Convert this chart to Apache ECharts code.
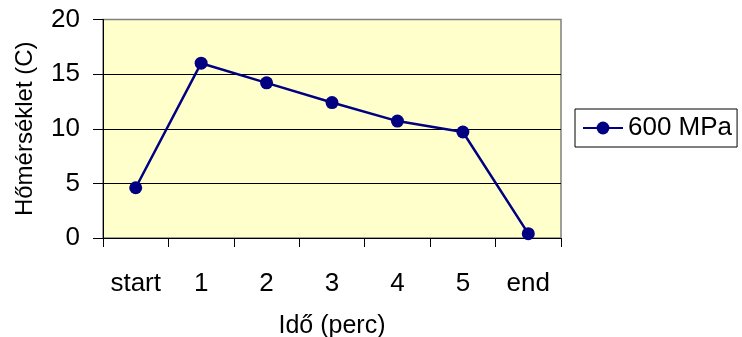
<!DOCTYPE html>
<html>
<head>
<meta charset="utf-8">
<script src="https://cdn.jsdelivr.net/npm/echarts@6/dist/echarts.min.js"></script>
<style>
html,body{margin:0;padding:0;background:#fff;}
#c{width:742px;height:337px;}
</style>
</head>
<body>
<div id="c"></div>
<script>
const categories = ['start', '1', '2', '3', '4', '5', 'end'];
const seriesName = '600 MPa';
const values = [4.6, 16.0, 14.2, 12.4, 10.7, 9.7, 0.4];
const yTicks = { min: 0, max: 20, interval: 5 };
const xTitle = 'Idő (perc)';
const yTitle = 'Hőmérséklet (C)';

const FONT = 'Liberation Sans, Arial, sans-serif';
const chart = echarts.init(document.getElementById('c'), null, { renderer: 'canvas' });
chart.setOption({
  animation: false,
  backgroundColor: '#ffffff',
  grid: {
    left: 103, top: 19.5, width: 458, height: 218.5,
    outerBoundsMode: 'none', containLabel: false,
    show: true, backgroundColor: '#FFFFCC', borderColor: '#808080', borderWidth: 1.5
  },
  legend: {
    left: 575, top: 109,
    orient: 'vertical',
    padding: [6, 5, 6, 7],
    borderColor: '#000', borderWidth: 1,
    itemWidth: 40, itemHeight: 16,
    textStyle: { fontFamily: FONT, fontSize: 26, color: '#000' },
    data: [seriesName]
  },
  xAxis: {
    type: 'category',
    data: categories,
    boundaryGap: true,
    name: xTitle,
    nameLocation: 'middle',
    nameGap: 76,
    nameTextStyle: { fontFamily: FONT, fontSize: 25, color: '#000' },
    axisLine: { lineStyle: { color: '#000', width: 1 } },
    axisTick: { show: true, length: 9, inside: false, alignWithLabel: false, lineStyle: { color: '#000' } },
    axisLabel: { fontFamily: FONT, fontSize: 26, color: '#000', margin: 33, interval: 0 },
    splitLine: { show: false }
  },
  yAxis: {
    type: 'value',
    min: yTicks.min, max: yTicks.max, interval: yTicks.interval,
    name: yTitle,
    nameLocation: 'middle',
    nameGap: 66,
    nameTextStyle: { fontFamily: FONT, fontSize: 24, color: '#000' },
    axisLine: { show: true, lineStyle: { color: '#000', width: 1 } },
    axisTick: { show: true, length: 10, lineStyle: { color: '#000' } },
    axisLabel: { fontFamily: FONT, fontSize: 26, color: '#000', margin: 23 },
    splitLine: { show: true, showMaxLine: false, lineStyle: { color: '#000', width: 1 } }
  },
  series: [{
    name: seriesName,
    type: 'line',
    data: values,
    symbol: 'circle',
    symbolSize: 13,
    lineStyle: { color: '#000080', width: 2.5 },
    itemStyle: { color: '#000080' }
  }]
});
</script>
</body>
</html>
